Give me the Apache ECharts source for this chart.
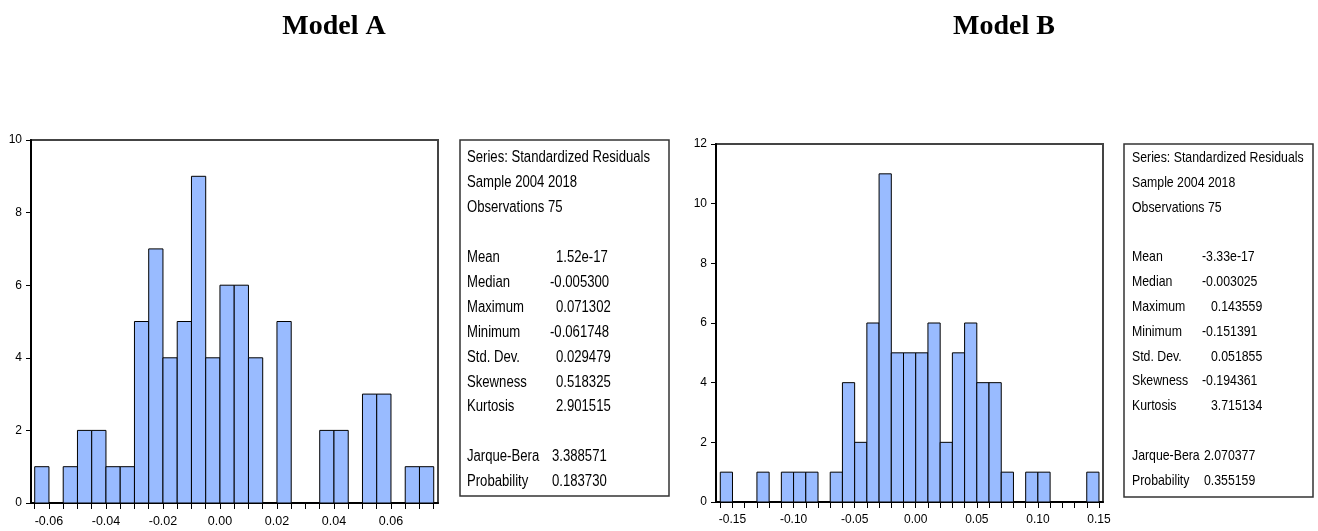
<!DOCTYPE html>
<html>
<head>
<meta charset="utf-8">
<script src="https://cdn.jsdelivr.net/npm/echarts@6/dist/echarts.min.js"></script>
<style>
html,body{margin:0;padding:0;background:#fff;}
#chart{width:1318px;height:531px;}
</style>
</head>
<body>
<div id="chart"></div>
<script>
// ---------- DATA ----------
const titleA = "Model A";
const titleB = "Model B";

// Model A histogram: bin edges and counts
const edgesA = [-0.065,-0.060,-0.055,-0.050,-0.045,-0.040,-0.035,-0.030,-0.025,-0.020,-0.015,-0.010,-0.005,0.000,0.005,0.010,0.015,0.020,0.025,0.030,0.035,0.040,0.045,0.050,0.055,0.060,0.065,0.070,0.075];
const countsA = [1,0,1,2,2,1,1,5,7,4,5,9,4,6,6,4,0,5,0,0,2,2,0,3,3,0,1,1];
const xLabelsA = [-0.06,-0.04,-0.02,0.00,0.02,0.04,0.06];

// Model B histogram
const edgesB = [-0.16,-0.15,-0.14,-0.13,-0.12,-0.11,-0.10,-0.09,-0.08,-0.07,-0.06,-0.05,-0.04,-0.03,-0.02,-0.01,0.00,0.01,0.02,0.03,0.04,0.05,0.06,0.07,0.08,0.09,0.10,0.11,0.12,0.13,0.14,0.15];
const countsB = [1,0,0,1,0,1,1,1,0,1,4,2,6,11,5,5,5,6,2,5,6,4,4,1,0,1,1,0,0,0,1];
const xLabelsB = [-0.15,-0.10,-0.05,0.00,0.05,0.10,0.15];

// Stats boxes
const headerLines = ["Series: Standardized Residuals","Sample 2004 2018","Observations 75"];
const statNames = ["Mean","Median","Maximum","Minimum","Std. Dev.","Skewness","Kurtosis"];
const statsA = ["1.52e-17","-0.005300","0.071302","-0.061748","0.029479","0.518325","2.901515"];
const statsB = ["-3.33e-17","-0.003025","0.143559","-0.151391","0.051855","-0.194361","3.715134"];
const testNames = ["Jarque-Bera","Probability"];
const testsA = ["3.388571","0.183730"];
const testsB = ["2.070377","0.355159"];

// ---------- CHART ----------
const FONT = "'Liberation Sans',Arial,sans-serif";
const NARROW = 0.82;
const BAR = '#99bbff';

function histData(edges, counts){
  const out = [];
  for (let i = 0; i < counts.length; i++) out.push([edges[i], edges[i+1], counts[i]]);
  return out;
}

function renderBar(params, api){
  const c = api.value(2);
  if (!c) return null;
  const p0 = api.coord([api.value(0), c]);
  const p1 = api.coord([api.value(1), 0]);
  return {
    type: 'rect',
    shape: {x: p0[0], y: p0[1], width: p1[0]-p0[0], height: p1[1]-p0[1]},
    style: {fill: BAR, stroke: '#000', lineWidth: 1}
  };
}

function xAxisCfg(gi, min, max, edges, labels, fs){
  return {
    type: 'value', gridIndex: gi, min: min, max: max,
    splitLine: {show: false},
    axisLine: {show: true, onZero: false, lineStyle: {color: '#000', width: 2}},
    axisTick: {show: true, customValues: edges, length: 6, lineStyle: {color: '#000', width: 1}},
    axisLabel: {customValues: labels, color: '#000', fontFamily: FONT, fontSize: fs, margin: 12,
      formatter: v => (v < 0 ? '-' : '') + Math.abs(v).toFixed(2)}
  };
}
function yAxisCfg(gi, max, fs){
  return {
    type: 'value', gridIndex: gi, min: 0, max: max, interval: 2,
    splitLine: {show: false},
    axisLine: {show: true, onZero: false, lineStyle: {color: '#000', width: 2}},
    axisTick: {show: true, length: 5, lineStyle: {color: '#000', width: 1}},
    axisLabel: {color: '#000', fontFamily: FONT, fontSize: fs, margin: 9}
  };
}

// Stats box graphic
function statBox(x, y, w, h, fs, textX, firstY, step, valX, posPad, testX, stats, tests){
  const els = [{type: 'rect', shape: {x: x, y: y, width: w, height: h},
    style: {fill: '#fff', stroke: '#333', lineWidth: 1.5}}];
  const txt = (s, tx, ty) => ({type: 'text', x: tx, y: ty, scaleX: NARROW,
    style: {text: s, fill: '#000', font: fs + 'px ' + FONT, textVerticalAlign: 'middle', textAlign: 'left'}});
  headerLines.forEach((s, i) => els.push(txt(s, textX, firstY + i*step)));
  statNames.forEach((s, i) => {
    const ty = firstY + (4 + i)*step;
    els.push(txt(s, textX, ty));
    const v = stats[i];
    els.push(txt(v, valX + (v.charAt(0) === '-' ? 0 : posPad), ty));
  });
  testNames.forEach((s, i) => {
    const ty = firstY + (12 + i)*step;
    els.push(txt(s, textX, ty));
    els.push(txt(tests[i], testX, ty));
  });
  return els;
}

const chart = echarts.init(document.getElementById('chart'), null, {renderer: 'canvas'});
chart.setOption({
  backgroundColor: '#fff',
  animation: false,
  title: [
    {text: titleA, left: 329, top: 8, textAlign: 'center',
     textStyle: {fontFamily: "'Liberation Serif','Times New Roman',serif", fontWeight: 'bold', fontSize: 28, color: '#000'}},
    {text: titleB, left: 999, top: 8, textAlign: 'center',
     textStyle: {fontFamily: "'Liberation Serif','Times New Roman',serif", fontWeight: 'bold', fontSize: 28, color: '#000'}}
  ],
  grid: [
    {left: 31, top: 140, width: 407, height: 363, containLabel: false, show: true, borderColor: '#444', borderWidth: 2, backgroundColor: 'transparent'},
    {left: 716, top: 144, width: 387, height: 358, containLabel: false, show: true, borderColor: '#444', borderWidth: 2, backgroundColor: 'transparent'}
  ],
  xAxis: [
    xAxisCfg(0, -0.0663, 0.0765, edgesA, xLabelsA, 12.5),
    xAxisCfg(1, -0.1635, 0.1533, edgesB, xLabelsB, 12)
  ],
  yAxis: [ yAxisCfg(0, 10, 12), yAxisCfg(1, 12, 12) ],
  series: [
    {type: 'custom', xAxisIndex: 0, yAxisIndex: 0, renderItem: renderBar, data: histData(edgesA, countsA), encode: {x: [0,1], y: 2}, clip: true},
    {type: 'custom', xAxisIndex: 1, yAxisIndex: 1, renderItem: renderBar, data: histData(edgesB, countsB), encode: {x: [0,1], y: 2}, clip: true}
  ],
  graphic: [].concat(
    statBox(460, 140, 209, 356, 16, 467, 158, 24.9, 550, 6, 552, statsA, testsA),
    statBox(1124, 144, 189, 353, 15, 1132, 158, 24.8, 1202, 9, 1204, statsB, testsB)
  )
});
</script>
</body>
</html>
